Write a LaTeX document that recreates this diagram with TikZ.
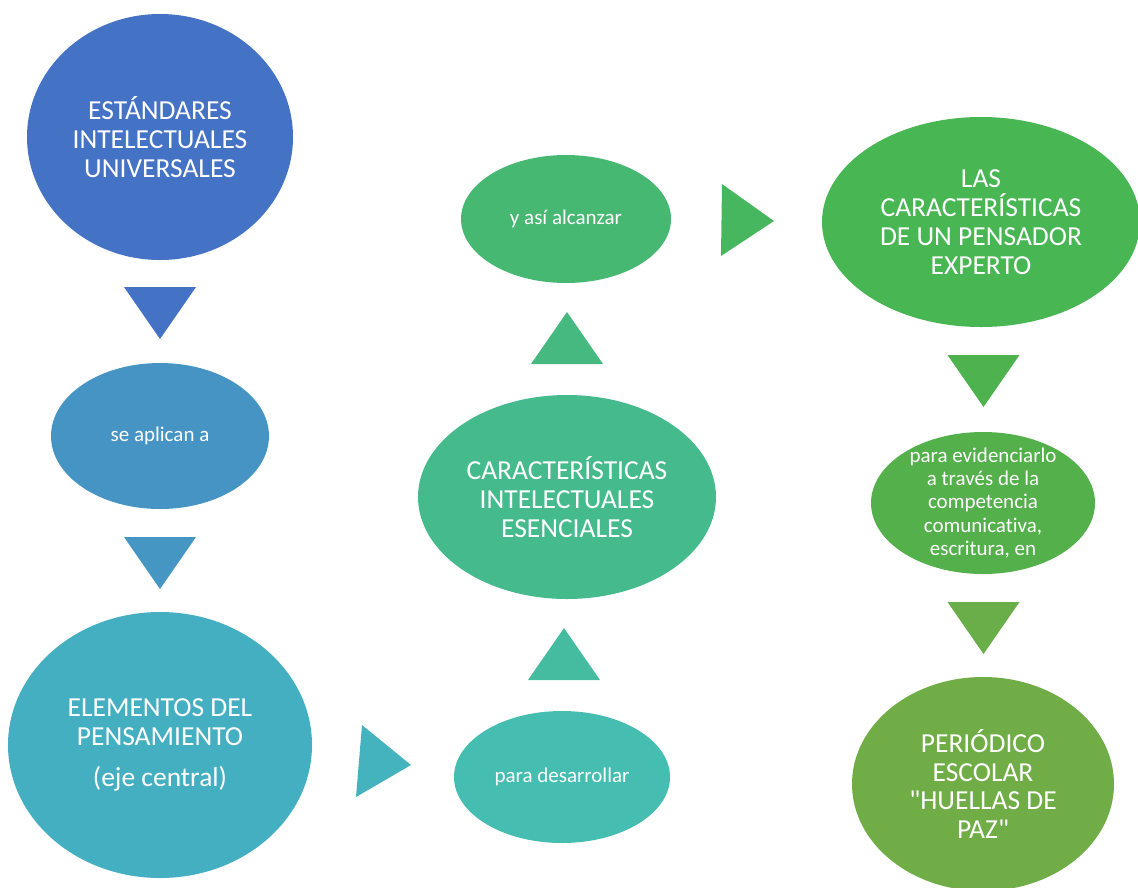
\documentclass[tikz,border=0pt]{standalone}
\usepackage{fontspec}
\setmainfont{Carlito}[Ligatures={NoCommon}]
\usetikzlibrary{shapes.geometric}

\definecolor{blueA}{HTML}{4472C4}
\definecolor{blueB}{HTML}{4594C3}
\definecolor{tealA}{HTML}{45AFC2}
\definecolor{tealB}{HTML}{45BDB0}
\definecolor{tealC}{HTML}{45BB8D}
\definecolor{greenA}{HTML}{46B872}
\definecolor{greenB}{HTML}{48B653}
\definecolor{greenC}{HTML}{53B04B}
\definecolor{greenD}{HTML}{70AD47}

\def\downtri[#1](#2,#3){\fill[#1] (#2-36,#3) -- (#2+36,#3) -- (#2,#3+52) -- cycle;}
\def\uptri[#1](#2,#3){\fill[#1] (#2-36,#3+52) -- (#2+36,#3+52) -- (#2,#3) -- cycle;}

\begin{document}
\begin{tikzpicture}[x=1pt,y=-1pt,
	bubble/.style={ellipse, fill=#1, text=white, inner sep=0pt, align=center},
	bigtext/.style={font=\fontsize{27.5}{28.8}\selectfont},
	smalltext/.style={font=\fontsize{21}{23.2}\selectfont}]
			%%%%% START %%%%%
			\useasboundingbox (0,0) rectangle (1138,887);
			
			% left column
			\node[bubble=blueA, bigtext, minimum width=266, minimum height=246] (estandares) at (160,137) {ESTÁNDARES\\INTELECTUALES\\UNIVERSALES};
			\downtri[blueA](160,287)
			
			\node[bubble=blueB, smalltext, minimum width=218, minimum height=146] (aplican) at (160,436) {se aplican a};
			\downtri[blueB!92!tealA](160,537)
			
			\node[bubble=tealA, bigtext, minimum width=304, minimum height=266] (elementos) at (160,745) {ELEMENTOS DEL\\PENSAMIENTO\\[13pt](eje central)};
			\fill[tealA!70!tealB] (362,725) -- (411,765) -- (356,797) -- cycle;
			
			% middle column
			\node[bubble=tealB, smalltext, minimum width=216, minimum height=132] (desarrollar) at (562,777) {para desarrollar};
			\uptri[tealB!50!tealC](564,628)
			
			\node[bubble=tealC, bigtext, minimum width=298, minimum height=204] (esenciales) at (567,497) {CARACTERÍSTICAS\\INTELECTUALES\\ESENCIALES};
			\uptri[tealC!50!greenA](567,312)
			
			\node[bubble=greenA, smalltext, minimum width=210, minimum height=128] (alcanzar) at (566,219) {y así alcanzar};
			\fill[greenA!40!greenB] (722,184) -- (774,221) -- (721,256) -- cycle;
			
			% right column
			\node[bubble=greenB, bigtext, minimum width=318, minimum height=210] (experto) at (981,222) {LAS\\CARACTERÍSTICAS\\DE UN PENSADOR\\EXPERTO};
			\downtri[greenB!50!greenC](983.5,355)
			
			\node[bubble=greenC, smalltext, inner sep=-25pt, minimum width=224, minimum height=142] (evidenciarlo) at (983,503) {para evidenciarlo\\a través de la\\competencia\\comunicativa,\\escritura, en};
			\downtri[greenC!25!greenD](983.5,602)
			
			\node[bubble=greenD, bigtext, minimum width=262, minimum height=214] (periodico) at (983,784) {PERIÓDICO\\ESCOLAR\\\textquotedbl HUELLAS DE\\PAZ\textquotedbl};
			
			%%%%% END %%%%%
\end{tikzpicture}
\end{document}
